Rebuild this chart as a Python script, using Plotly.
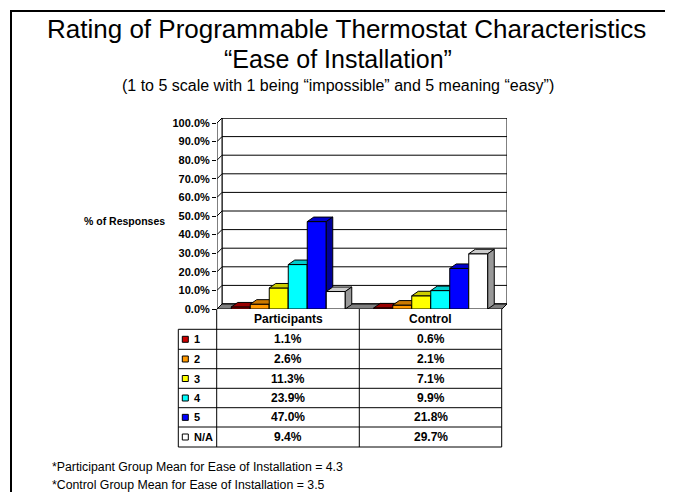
import plotly.graph_objects as go

# ---- data ----
groups = ["Participants", "Control"]
ratings = ["1", "2", "3", "4", "5", "N/A"]
participants = [1.1, 2.6, 11.3, 23.9, 47.0, 9.4]
control = [0.6, 2.1, 7.1, 9.9, 21.8, 29.7]
y_ticks = [0, 10, 20, 30, 40, 50, 60, 70, 80, 90, 100]

# ---- styling ----
front_colors = ["#CC0000", "#FF9900", "#FFFF00", "#00FFFF", "#0000FF", "#FFFFFF"]
top_colors = ["#990000", "#CC7A00", "#CCCC00", "#00CCCC", "#0000CC", "#CCCCCC"]
side_colors = ["#660000", "#996600", "#999900", "#009999", "#000099", "#999999"]
FONT = "Arial, Liberation Sans, sans-serif"

# page body has an 8px margin, so the figure is sized to fit inside it
OFF = 8
W, H = 673 - 2 * OFF, 500 - 2 * OFF
PL, PR, PT, PB = 217, 507, 118, 309   # plot area in page pixels
X_PX = 142.5                           # pixels per category unit
Y_PX = 1.86                            # pixels per percent
WALL_DX, WALL_DY = 5 / X_PX, 5 / Y_PX
BAR_DX, BAR_DY = 6.5 / X_PX, 4.5 / Y_PX
BAR_W = 0.8 / len(ratings)


def px(x):
    return (x - PL) / (PR - PL)


def py(y):
    return (PB - y) / (PB - PT)


def poly(xs, ys, fill, width=1):
    return go.Scatter(x=xs + [xs[0]], y=ys + [ys[0]], mode="lines", fill="toself",
                      fillcolor=fill, line=dict(color="black", width=width),
                      hoverinfo="skip", showlegend=False)


def label(x, y, text, size, xanchor="center", bold=False):
    if bold:
        text = f"<b>{text}</b>"
    return dict(xref="paper", yref="paper", x=px(x), y=py(y), text=text,
                xanchor=xanchor, yanchor="middle", showarrow=False,
                font=dict(size=size, family=FONT, color="black"))


fig = go.Figure()

x0, x1 = -0.5, 1.5
# back wall, left wall and floor
fig.add_trace(poly([x0 + WALL_DX, x1 + WALL_DX, x1 + WALL_DX, x0 + WALL_DX],
                   [WALL_DY, WALL_DY, 100 + WALL_DY, 100 + WALL_DY], "white"))
fig.add_trace(poly([x0, x0, x0 + WALL_DX, x0 + WALL_DX],
                   [0, 100, 100 + WALL_DY, WALL_DY], "white"))

# gridlines running across left wall and back wall
gx, gy = [], []
for t in y_ticks:
    gx += [x0, x0 + WALL_DX, x1 + WALL_DX, None]
    gy += [t, t + WALL_DY, t + WALL_DY, None]
fig.add_trace(go.Scatter(x=gx, y=gy, mode="lines", line=dict(color="black", width=1),
                         hoverinfo="skip", showlegend=False))

fig.add_trace(poly([x0, x1, x1 + WALL_DX, x0 + WALL_DX],
                   [0, 0, WALL_DY, WALL_DY], "#808080"))

# 3D bars, drawn left to right so each front covers the previous side
for g, values in enumerate([participants, control]):
    for i, v in enumerate(values):
        l = g - 0.4 + i * BAR_W
        r = l + BAR_W
        fig.add_trace(poly([l, r, r, l], [0, 0, v, v], front_colors[i]))
        fig.add_trace(poly([l, r, r + BAR_DX, l + BAR_DX],
                           [v, v, v + BAR_DY, v + BAR_DY], top_colors[i]))
        fig.add_trace(poly([r, r + BAR_DX, r + BAR_DX, r],
                           [0, BAR_DY, v + BAR_DY, v], side_colors[i]))

shapes = []
annotations = []

# data table below the chart
col_x = [178.3, 216.7, 359.3, 501.7]
row_y = [309, 329.3, 349.3, 368.7, 388.3, 407.7, 427, 447]
line_style = dict(color="black", width=1)
for yy in row_y[1:]:
    shapes.append(dict(type="line", xref="paper", yref="paper",
                       x0=px(col_x[0]), x1=px(col_x[3]), y0=py(yy), y1=py(yy),
                       line=line_style))
shapes.append(dict(type="line", xref="paper", yref="paper",
                   x0=px(col_x[0]), x1=px(col_x[0]), y0=py(row_y[1]), y1=py(row_y[-1]),
                   line=line_style))
for cx in col_x[1:]:
    shapes.append(dict(type="line", xref="paper", yref="paper",
                       x0=px(cx), x1=px(cx), y0=py(row_y[0]), y1=py(row_y[-1]),
                       line=line_style))

for j, name in enumerate(groups):
    annotations.append(label((col_x[j + 1] + col_x[j + 2]) / 2,
                             (row_y[0] + row_y[1]) / 2, name, 12, bold=True))

for i, lab in enumerate(ratings):
    cy = (row_y[i + 1] + row_y[i + 2]) / 2
    shapes.append(dict(type="rect", xref="paper", yref="paper",
                       x0=px(182.3), x1=px(188.3), y0=py(cy + 3), y1=py(cy - 3),
                       fillcolor=front_colors[i], line=dict(color="black", width=1)))
    annotations.append(label(191.5, cy, lab, 11, xanchor="left", bold=True))
    for j, values in enumerate([participants, control]):
        annotations.append(label((col_x[j + 1] + col_x[j + 2]) / 2, cy,
                                 f"{values[i]:.1f}%", 12, bold=True))

# axis title
annotations.append(label(167, 221, "% of Responses", 10.5, xanchor="right", bold=True))

# titles
annotations.append(label(346, 29, "Rating of Programmable Thermostat Characteristics", 26))
annotations.append(label(338, 59, "\u201cEase of Installation\u201d", 25))
annotations.append(label(338, 85, "(1 to 5 scale with 1 being \u201cimpossible\u201d "
                                  "and 5 meaning \u201ceasy\u201d)", 16))

# footnotes
annotations.append(label(50, 467, "*Participant Group Mean for Ease of Installation = 4.3",
                         12.3, xanchor="left"))
annotations.append(label(50, 485, "*Control Group Mean for Ease of Installation = 3.5",
                         12.3, xanchor="left"))

# slide frame
shapes.append(dict(type="path", xref="paper", yref="paper",
                   path=f"M {px(11)},{py(510)} L {px(11)},{py(11)} L {px(690)},{py(11)}",
                   line=dict(color="black", width=2)))

fig.update_layout(
    width=W, height=H,
    margin=dict(l=PL - OFF, r=W + OFF - PR, t=PT - OFF, b=H + OFF - PB),
    paper_bgcolor="white", plot_bgcolor="white",
    showlegend=False,
    xaxis=dict(range=[x0, x1 + WALL_DX], visible=False, fixedrange=True),
    yaxis=dict(range=[0, 100 + WALL_DY], tickvals=y_ticks,
               ticktext=[f"<b>{t:.1f}%</b>" for t in y_ticks],
               ticks="outside", ticklen=4, tickcolor="black",
               showgrid=False, zeroline=False, showline=False,
               tickfont=dict(size=11, family=FONT, color="black"), fixedrange=True),
    shapes=shapes,
    annotations=annotations,
)

fig.write_html("out.html")
